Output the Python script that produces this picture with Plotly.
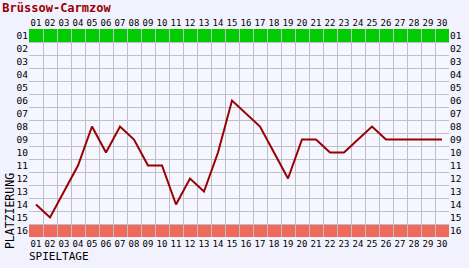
import plotly.graph_objects as go

spieltage = list(range(1, 31))
spieltag_labels = [f"{i:02d}" for i in spieltage]
platz = [14, 15, 13, 11, 8, 10, 8, 9, 11, 11, 14, 12, 13, 10, 6, 7, 8, 10, 12, 9,
         9, 10, 10, 9, 8, 9, 9, 9, 9, 9]
ranks = list(range(1, 17))
rank_labels = [f"{i:02d}" for i in ranks]

W, H = 469, 268
ML, MR, MT, MB = 29, 20, 29, 31
font_mono = "DejaVu Sans Mono"
grid_col = "#BEBECC"

fig = go.Figure()
fig.add_trace(go.Scatter(x=spieltage, y=platz, mode="lines",
                         line=dict(color="#990000", width=2), hoverinfo="skip",
                         showlegend=False))
fig.add_trace(go.Scatter(x=spieltage, y=platz, xaxis="x2", yaxis="y2", mode="lines",
                         line=dict(width=0), opacity=0, hoverinfo="skip", showlegend=False))

# top (green) and bottom (red) bands
fig.add_shape(type="rect", xref="paper", yref="y", x0=0, x1=1, y0=0.5, y1=1.5,
              fillcolor="#00CC00", line_width=0, layer="below")
fig.add_shape(type="rect", xref="paper", yref="y", x0=0, x1=1, y0=15.5, y1=16.5,
              fillcolor="#F06A5A", line_width=0, layer="below")

xcommon = dict(range=[0.5, 30.5], tickvals=spieltage, ticktext=spieltag_labels,
               ticks="", showline=False, zeroline=False, tickangle=0, automargin=False,
               tickfont=dict(family=font_mono, size=9, color="#000000"))
ycommon = dict(range=[16.5, 0.5], tickvals=ranks, ticktext=rank_labels,
               ticks="", showline=False, zeroline=False, automargin=False,
               tickfont=dict(family=font_mono, size=9.5, color="#000000"))

fig.update_layout(
    width=W, height=H,
    margin=dict(l=ML, r=MR, t=MT, b=MB),
    paper_bgcolor="#F2F2FF", plot_bgcolor="#F6F6FF",
    title=dict(text="<b>Brüssow-Carmzow</b>", x=0.005, xanchor="left",
               y=0.985, yanchor="top", xref="container", yref="container",
               font=dict(family=font_mono, size=12, color="#990000")),
    xaxis=dict(**xcommon, side="bottom", showgrid=False,
               minor=dict(tick0=0.5, dtick=1, showgrid=True, gridcolor=grid_col, gridwidth=1),
               ticklabelstandoff=0),
    xaxis2=dict(**xcommon, side="top", overlaying="x", matches="x", showgrid=False),
    yaxis=dict(**ycommon, side="left", showgrid=False,
               minor=dict(tick0=0.5, dtick=1, showgrid=True, gridcolor=grid_col, gridwidth=1)),
    yaxis2=dict(**ycommon, side="right", overlaying="y", matches="y", showgrid=False),
    annotations=[
        dict(text="SPIELTAGE", xref="paper", yref="paper", x=-0.005, y=-0.096,
             xanchor="left", yanchor="middle", showarrow=False,
             font=dict(family=font_mono, size=11, color="#000000")),
        dict(text="PLATZIERUNG", xref="paper", yref="paper", x=-0.045, y=0.125,
             xanchor="center", yanchor="middle", textangle=-90, showarrow=False,
             font=dict(family=font_mono, size=11.5, color="#000000")),
    ],
)

fig.write_html("out.html")
